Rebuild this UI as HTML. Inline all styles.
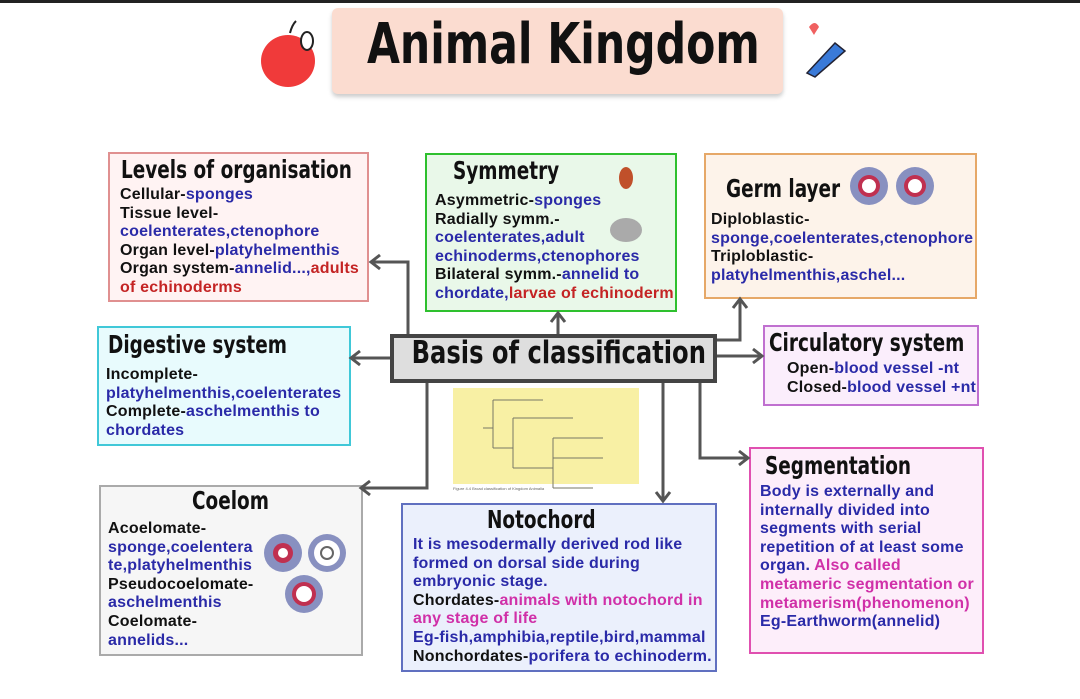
<!DOCTYPE html>
<html><head><meta charset="utf-8">
<style>
html,body{margin:0;padding:0;background:#fff;}
#page{position:relative;width:1080px;height:699px;overflow:hidden;background:#fff;font-family:"Liberation Sans",sans-serif;}
.box{position:absolute;box-sizing:border-box;border:2px solid;}
.t{position:absolute;font-family:"DejaVu Sans Condensed","DejaVu Sans",sans-serif;font-weight:bold;color:#111;white-space:nowrap;font-size:25px;transform:scaleX(0.82);transform-origin:left top;}
.txt{position:absolute;font-size:16px;font-weight:bold;line-height:18.6px;color:#111;white-space:nowrap;letter-spacing:0.2px;}
.b{color:#2a2aa8}.r{color:#c42424}.m{color:#d030a8}
</style></head><body>
<div id="page">
<div style="position:absolute;left:0;top:0;width:1080px;height:3px;background:#222"></div>

<div style="position:absolute;left:332px;top:8px;width:451px;height:86px;background:#fbdcd0;border-radius:6px;box-shadow:0 3px 4px #ccc;"></div>
<div class="t" style="left:332px;top:12px;width:451px;text-align:center;font-size:56px;transform:scaleX(0.845);transform-origin:center top;">Animal Kingdom</div>

<svg style="position:absolute;left:255px;top:15px" width="70" height="75">
<ellipse cx="33" cy="46" rx="27" ry="26" fill="#f03a3a"/><path d="M35 18 q2 -8 6 -12" stroke="#222" stroke-width="2" fill="none"/>
<ellipse cx="52" cy="26" rx="6" ry="9" fill="#fff" stroke="#222" stroke-width="2"/></svg>
<svg style="position:absolute;left:795px;top:15px" width="60" height="70">
<path d="M14 12 q6 -8 10 0 q-4 6 -5 8 z" fill="#f06060"/>
<path d="M12 58 L40 28 L50 36 L20 62 Z" fill="#3a7ad8" stroke="#223" stroke-width="1.5"/></svg>

<!-- Levels -->
<div class="box" style="left:108px;top:152px;width:261px;height:150px;border-color:#e09090;background:#fff3f3"></div>
<div class="t" style="left:121px;top:155px">Levels of organisation</div>
<div class="txt" style="left:120px;top:186px">Cellular-<span class="b">sponges</span><br>Tissue level-<br><span class="b">coelenterates,ctenophore</span><br>Organ level-<span class="b">platyhelmenthis</span><br>Organ system-<span class="b">annelid...,</span><span class="r">adults</span><br><span class="r">of echinoderms</span></div>

<!-- Symmetry -->
<div class="box" style="left:425px;top:153px;width:252px;height:159px;border-color:#2ec02e;background:#e9f8e9"></div>
<div class="t" style="left:453px;top:156px">Symmetry</div>
<svg style="position:absolute;left:600px;top:160px" width="50" height="90">
<ellipse cx="26" cy="18" rx="7" ry="11" fill="#c0502a"/><ellipse cx="26" cy="70" rx="16" ry="12" fill="#aaa"/></svg>
<div class="txt" style="left:435px;top:192px">Asymmetric-<span class="b">sponges</span><br>Radially symm.-<br><span class="b">coelenterates,adult</span><br><span class="b">echinoderms,ctenophores</span><br>Bilateral symm.-<span class="b">annelid to</span><br><span class="b">chordate,</span><span class="r">larvae of echinoderm</span></div>

<!-- Germ -->
<div class="box" style="left:704px;top:153px;width:273px;height:146px;border-color:#e6a868;background:#fdf3ea"></div>
<div class="t" style="left:726px;top:174px">Germ layer</div>
<svg style="position:absolute;left:848px;top:160px" width="90" height="50">
<circle cx="21" cy="26" r="19" fill="#8890c0"/><circle cx="21" cy="26" r="11" fill="#c03050"/><circle cx="21" cy="26" r="7" fill="#fff"/>
<circle cx="67" cy="26" r="19" fill="#8890c0"/><circle cx="67" cy="26" r="11" fill="#c03050"/><circle cx="67" cy="26" r="7" fill="#fff"/></svg>
<div class="txt" style="left:711px;top:211px">Diploblastic-<br><span class="b">sponge,coelenterates,ctenophore</span><br>Triploblastic-<br><span class="b">platyhelmenthis,aschel...</span></div>

<!-- Digestive -->
<div class="box" style="left:97px;top:326px;width:254px;height:120px;border-color:#40c8d8;background:#e8fbfd"></div>
<div class="t" style="left:108px;top:330px">Digestive system</div>
<div class="txt" style="left:106px;top:366px">Incomplete-<br><span class="b">platyhelmenthis,coelenterates</span><br>Complete-<span class="b">aschelmenthis to</span><br><span class="b">chordates</span></div>

<!-- Basis -->
<div class="box" style="left:390px;top:334px;width:327px;height:49px;border:4px solid #444;background:#dedede"></div>
<div class="t" style="left:390px;top:335px;width:327px;text-align:center;font-size:31px;transform:scaleX(0.868);transform-origin:center top;">Basis of classification</div>

<!-- Circulatory -->
<div class="box" style="left:763px;top:325px;width:216px;height:81px;border-color:#c070d0;background:#fbeefc"></div>
<div class="t" style="left:769px;top:328px">Circulatory system</div>
<div class="txt" style="left:787px;top:360px">Open-<span class="b">blood vessel -nt</span><br>Closed-<span class="b">blood vessel +nt</span></div>

<!-- Yellow figure -->
<div style="position:absolute;left:453px;top:388px;width:186px;height:96px;background:#f8f0a4"></div>
<svg style="position:absolute;left:453px;top:388px" width="186" height="110" stroke="#776" stroke-width="1" fill="none">
<path d="M30 40 H40 M40 12 V60 M40 12 H90 M40 60 H60 M60 30 V80 M60 30 H120 M60 80 H100 M100 50 V100 M100 50 H150 M100 70 H150 M100 100 H140"/></svg>
<div style="position:absolute;left:453px;top:486px;width:186px;height:10px;font-size:4px;color:#666">Figure 4.4 Broad classification of Kingdom Animalia</div>

<!-- Coelom -->
<div class="box" style="left:99px;top:485px;width:264px;height:171px;border-color:#aaa;background:#f6f6f6"></div>
<div class="t" style="left:192px;top:486px">Coelom</div>
<svg style="position:absolute;left:262px;top:530px" width="90" height="85">
<circle cx="21" cy="23" r="19" fill="#8890c0"/><circle cx="21" cy="23" r="10" fill="#c03050"/><circle cx="21" cy="23" r="5" fill="#fff"/>
<circle cx="65" cy="23" r="19" fill="#8890c0"/><circle cx="65" cy="23" r="13" fill="#fff"/><circle cx="65" cy="23" r="6" fill="none" stroke="#666" stroke-width="2"/>
<circle cx="42" cy="64" r="19" fill="#8890c0"/><circle cx="42" cy="64" r="12" fill="#c03050"/><circle cx="42" cy="64" r="8" fill="#fff"/></svg>
<div class="txt" style="left:108px;top:520px">Acoelomate-<br><span class="b">sponge,coelentera</span><br><span class="b">te,platyhelmenthis</span><br>Pseudocoelomate-<br><span class="b">aschelmenthis</span><br>Coelomate-<br><span class="b">annelids...</span></div>

<!-- Notochord -->
<div class="box" style="left:401px;top:503px;width:316px;height:169px;border-color:#6070c0;background:#ebf0fc"></div>
<div class="t" style="left:487px;top:505px">Notochord</div>
<div class="txt" style="left:413px;top:536px"><span class="b">It is mesodermally derived rod like</span><br><span class="b">formed on dorsal side during</span><br><span class="b">embryonic stage.</span><br>Chordates-<span class="m">animals with notochord in</span><br><span class="m">any stage of life</span><br><span class="b">Eg-fish,amphibia,reptile,bird,mammal</span><br>Nonchordates-<span class="b">porifera to echinoderm.</span></div>

<!-- Segmentation -->
<div class="box" style="left:749px;top:447px;width:235px;height:207px;border-color:#e050b0;background:#fdeefa"></div>
<div class="t" style="left:765px;top:451px">Segmentation</div>
<div class="txt" style="left:760px;top:483px"><span class="b">Body is externally and</span><br><span class="b">internally divided into</span><br><span class="b">segments with serial</span><br><span class="b">repetition of at least some</span><br><span class="b">organ.</span> <span class="m">Also called</span><br><span class="m">metameric segmentation or</span><br><span class="m">metamerism(phenomenon)</span><br><span class="b">Eg-Earthworm(annelid)</span></div>

<!-- Connectors -->
<svg style="position:absolute;left:0;top:0" width="1080" height="699" fill="none" stroke="#555" stroke-width="3">
<path d="M408 334 V262 H372 M380 255 L371 262 L380 269"/>
<path d="M558 334 V314 M551 322 L558 313 L565 322"/>
<path d="M717 340 H740 V300 M733 308 L740 299 L747 308"/>
<path d="M390 358 H352 M360 351 L351 358 L360 365"/>
<path d="M717 356 H761 M753 349 L762 356 L753 363"/>
<path d="M700 383 V458 H747 M739 451 L748 458 L739 465"/>
<path d="M663 383 V500 M656 492 L663 501 L670 492"/>
<path d="M427 383 V488 H362 M370 481 L361 488 L370 495"/>
</svg>
</div>
</body></html>
